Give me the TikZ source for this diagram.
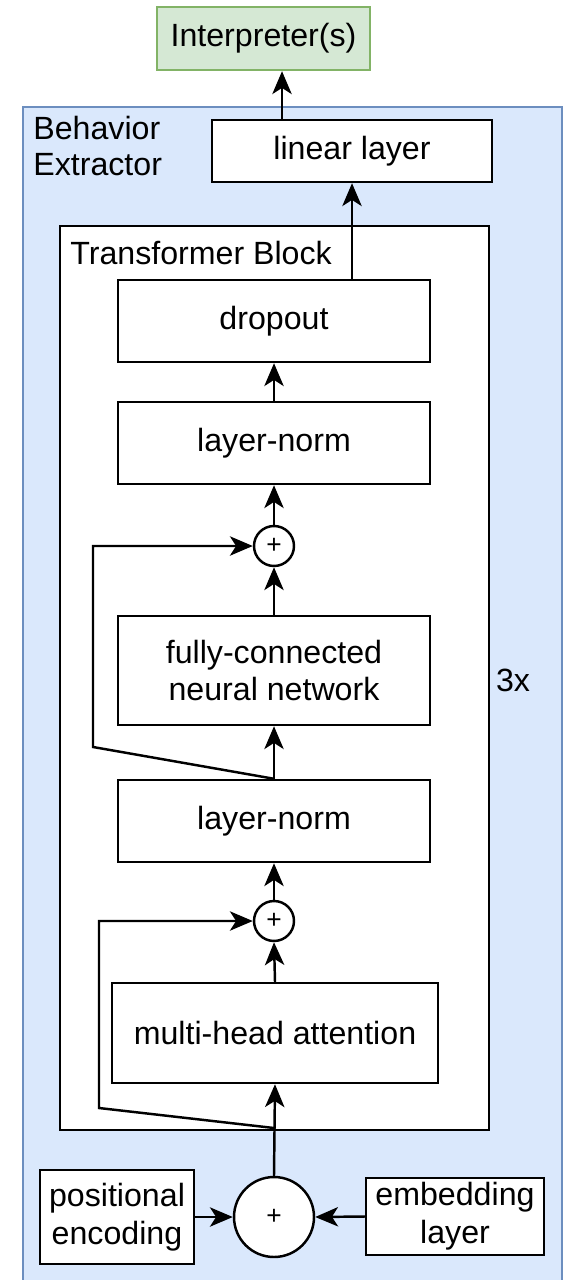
\documentclass[tikz,border=0pt]{standalone}
\usepackage{fontspec}
\setmainfont{Liberation Sans}
\usepackage{tikz}
\usetikzlibrary{arrows.meta,positioning,calc}
\usepackage{xcolor}
\definecolor{bluefill}{HTML}{DAE8FC}
\definecolor{blueline}{HTML}{6C8EBF}
\definecolor{greenfill}{HTML}{D5E8D4}
\definecolor{greenline}{HTML}{82B366}

\begin{document}
\begin{tikzpicture}[
    x=0.02cm,y=-0.02cm,
    box/.style={rectangle,draw,fill=white,line width=1.4pt,align=center,inner sep=0pt},
    sum/.style={circle,draw,fill=white,line width=1.4pt,inner sep=0pt,font=\fontsize{15}{15}\selectfont},
    arr/.style={-{Stealth[length=13pt,width=11pt,inset=3.5pt]},line width=1.4pt},
    font=\fontsize{18.3}{21.5}\selectfont
  ]
  \useasboundingbox (0,0) rectangle (564,1280);

  %% outer container
  \draw[fill=bluefill,draw=blueline,line width=1.4pt] (23,107) rectangle (562,1295);
  \node[anchor=north west,align=left,inner sep=0pt] (extr) at (33,116) {Behavior\\[-1pt]Extractor};

  %% output side
  \node[box,fill=greenfill,draw=greenline,minimum width=4.26cm,minimum height=1.26cm] (interp) at (263.5,38.5) {Interpreter(s)};
  \node[box,minimum width=5.6cm,minimum height=1.24cm] (linear) at (352,151) {linear layer};

  %% transformer block
  \draw[fill=white,line width=1.4pt] (60,226) rectangle (489,1130);
  \node[anchor=west,inner sep=0pt] (tbl) at (70,253) {Transformer Block};
  \node[inner sep=0pt] (rep) at (513,680) {3x};

  \node[box,minimum width=6.24cm,minimum height=1.64cm] (dropout) at (274,321) {dropout};
  \node[box,minimum width=6.24cm,minimum height=1.64cm] (ln1) at (274,443) {layer-norm};
  \node[sum,minimum size=0.8cm] (plus1) at (274,546) {+};
  \node[box,minimum width=6.24cm,minimum height=2.18cm] (fc) at (274,670.5) {fully-connected\\neural network};
  \node[box,minimum width=6.24cm,minimum height=1.64cm] (ln2) at (274,821) {layer-norm};
  \node[sum,minimum size=0.8cm] (plus2) at (274,921) {+};
  \node[box,minimum width=6.52cm,minimum height=2.0cm] (mha) at (275,1033) {multi-head attention};

  %% inputs
  \node[sum,minimum size=1.6cm] (plus0) at (274,1217) {+};
  \node[box,minimum width=3.08cm,minimum height=1.88cm] (pos) at (117,1217) {positional\\encoding};
  \node[box,minimum width=3.56cm,minimum height=1.54cm] (emb) at (455,1216.5) {embedding\\layer};

  %% helper points
  \coordinate (lintop) at (282,120);
  \coordinate (split) at (274,1128);
  \coordinate (res1) at (93,747);
  \coordinate (res2) at (99,1108);

  %% main path
  \draw[arr] (pos.east) -- (plus0.west);
  \draw[arr] (emb.west) -- (plus0.east);
  \draw[arr] (plus0.north) -- (mha.south);
  \draw[arr] (mha.north) -- (plus2.south);
  \draw[arr] (plus2.north) -- (ln2.south);
  \draw[arr] (ln2.north) -- (fc.south);
  \draw[arr] (fc.north) -- (plus1.south);
  \draw[arr] (plus1.north) -- (ln1.south);
  \draw[arr] (ln1.north) -- (dropout.south);
  \draw[arr] (dropout.north -| linear.south) -- (linear.south);
  \draw[arr] (lintop) -- (lintop |- interp.south);

  %% residuals
  \draw[arr] (ln2.north) -- (res1) |- (plus1.west);
  \draw[arr] (split) -- (res2) |- (plus2.west);
\end{tikzpicture}
\end{document}
